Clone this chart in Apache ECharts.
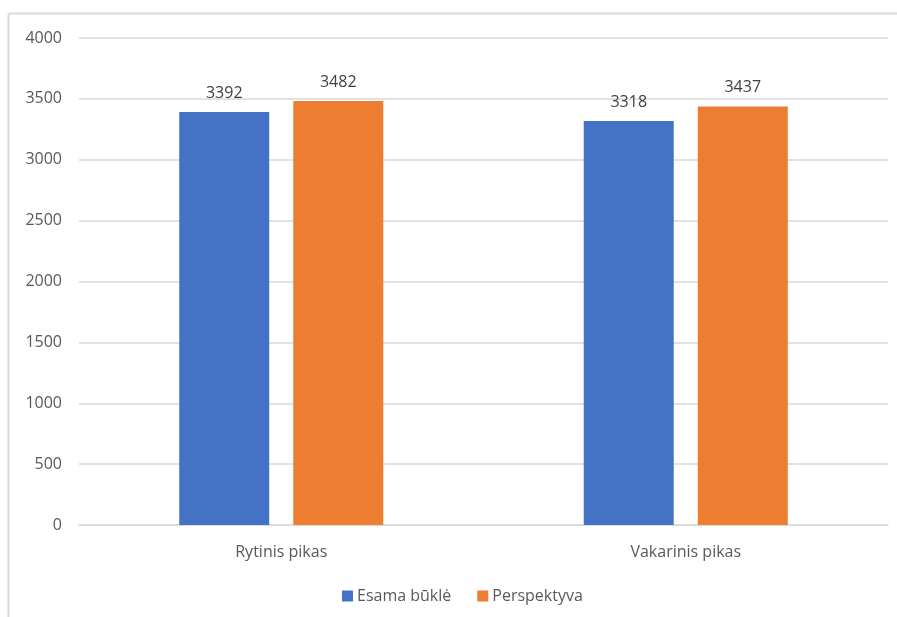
<!DOCTYPE html>
<html>
<head>
<meta charset="utf-8">
<script src="https://cdn.jsdelivr.net/npm/echarts@6/dist/echarts.min.js"></script>
<style>
html,body{margin:0;padding:0;background:#fff;}
#chart{width:897px;height:617px;}
</style>
</head>
<body>
<div id="chart"></div>
<script>
const categories = ['Rytinis pikas', 'Vakarinis pikas'];
const seriesNames = ['Esama būklė', 'Perspektyva'];
const esama = [3392, 3318];
const perspektyva = [3482, 3437];
const yTicks = { min: 0, max: 4000, interval: 500 };

const font = '"Open Sans", "Noto Sans", sans-serif';
const fs = 16;
const chart = echarts.init(document.getElementById('chart'));
chart.setOption({
  animation: false,
  backgroundColor: '#fff',
  textStyle: { fontFamily: font },
  graphic: [
    { type: 'line', shape: { x1: 8.5, y1: 13.5, x2: 897, y2: 13.5 }, style: { stroke: '#d9d9d9', lineWidth: 2 } },
    { type: 'line', shape: { x1: 8.5, y1: 13.5, x2: 8.5, y2: 617 }, style: { stroke: '#d9d9d9', lineWidth: 2 } }
  ],
  grid: { left: 79, right: 9, top: 38, bottom: 92, containLabel: false },
  legend: {
    bottom: 8,
    left: 337,
    itemWidth: 11,
    itemHeight: 11,
    itemGap: 26,
    icon: 'rect',
    textStyle: { color: '#595959', fontSize: fs, fontFamily: font, padding: [0, 0, 0, -1] },
    data: seriesNames
  },
  xAxis: {
    type: 'category',
    data: categories,
    axisLine: { lineStyle: { color: '#d9d9d9', width: 1.5 } },
    axisTick: { show: false },
    axisLabel: { color: '#595959', fontSize: fs, margin: 19, fontFamily: font }
  },
  yAxis: {
    type: 'value',
    min: yTicks.min,
    max: yTicks.max,
    interval: yTicks.interval,
    axisLine: { show: false },
    axisTick: { show: false },
    splitLine: { lineStyle: { color: '#d9d9d9', width: 1.5 } },
    axisLabel: { color: '#595959', fontSize: fs, margin: 17, fontFamily: font, formatter: v => String(v) }
  },
  series: [
    {
      name: seriesNames[0], type: 'bar', data: esama,
      barWidth: 90, barGap: '26.7%',
      itemStyle: { color: '#4472C4' },
      label: { show: true, position: 'top', distance: 11, color: '#404040', fontSize: fs, fontFamily: font }
    },
    {
      name: seriesNames[1], type: 'bar', data: perspektyva,
      barWidth: 90,
      itemStyle: { color: '#ED7D31' },
      label: { show: true, position: 'top', distance: 11, color: '#404040', fontSize: fs, fontFamily: font }
    }
  ]
});
</script>
</body>
</html>
